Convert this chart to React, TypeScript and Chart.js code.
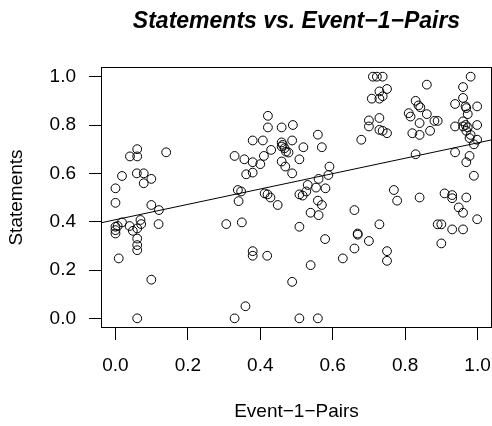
import { useEffect, useRef } from "react";
import { Chart, registerables } from "chart.js";

Chart.register(...registerables);

const FONT = "'Liberation Sans', Arial, Helvetica, sans-serif";

const chartTitle = "Statements vs. Event\u22121\u2212Pairs";
const xTitle = "Event\u22121\u2212Pairs";
const yTitle = "Statements";

const xTicks = [0, 0.2, 0.4, 0.6, 0.8, 1.0];
const yTicks = [0, 0.2, 0.4, 0.6, 0.8, 1.0];

// Event-1-Pairs (x) values
const eventPairs = [
  0.06, 0.04, 0.06, 0.14, 0.018, 0.059, 0.078, 0.099, 0.078, 0.0,
  0.0, 0.099, 0.12, 0.018, 0.0, 0.006, 0.0, 0.0, 0.039, 0.048,
  0.06, 0.069, 0.071, 0.06, 0.06, 0.06, 0.119, 0.009, 0.099, 0.06,
  0.306,
  0.421, 0.421, 0.459, 0.49, 0.559, 0.379, 0.407, 0.459, 0.462, 0.488,
  0.459, 0.467, 0.519, 0.57, 0.43, 0.471, 0.478, 0.329, 0.356, 0.379,
  0.41, 0.4, 0.459, 0.508, 0.469, 0.488, 0.591, 0.361, 0.379, 0.561,
  0.588, 0.531, 0.554, 0.58, 0.338, 0.347, 0.412, 0.42, 0.508, 0.527,
  0.34, 0.428, 0.448, 0.517, 0.559, 0.57, 0.539, 0.561, 0.349, 0.508,
  0.579, 0.379, 0.379, 0.419, 0.628, 0.539, 0.488, 0.359, 0.329, 0.508,
  0.559,
  0.711, 0.722, 0.738, 0.981, 0.86, 0.96, 0.75, 0.729, 0.738, 0.708,
  0.729, 0.829, 0.837, 0.842, 0.96, 0.938, 0.967, 0.969, 0.999, 0.973,
  0.81, 0.815, 0.86, 0.881, 0.89, 0.84, 0.7, 0.729, 0.7, 0.729,
  0.738, 0.75, 0.82, 0.84, 0.869, 0.96, 0.967, 0.938, 0.96, 0.973,
  0.999, 0.969, 0.981, 0.978, 0.999, 0.99, 0.679, 0.829, 0.938, 0.978,
  0.969, 0.99, 0.769,
  0.778, 0.84, 0.909, 0.93, 0.93, 0.969, 0.948, 0.96, 0.999, 0.66,
  0.729, 0.89, 0.9, 0.93, 0.96, 0.9, 0.669, 0.669, 0.7, 0.66,
  0.75, 0.75,
];

// Statements (y) values
const statements = [
  0.7, 0.67, 0.67, 0.687, 0.589, 0.6, 0.6, 0.577, 0.559, 0.538,
  0.478, 0.469, 0.448, 0.397, 0.379, 0.382, 0.365, 0.351, 0.382, 0.362,
  0.372, 0.407, 0.39, 0.33, 0.303, 0.282, 0.39, 0.248, 0.16, 0.0,
  0.39,
  0.838, 0.79, 0.79, 0.8, 0.76, 0.736, 0.736, 0.728, 0.718, 0.736,
  0.711, 0.704, 0.708, 0.708, 0.697, 0.69, 0.686, 0.672, 0.658, 0.646,
  0.672, 0.638, 0.649, 0.658, 0.628, 0.6, 0.628, 0.596, 0.603, 0.577,
  0.593, 0.552, 0.541, 0.538, 0.531, 0.525, 0.517, 0.513, 0.513, 0.525,
  0.485, 0.5, 0.469, 0.508, 0.487, 0.469, 0.437, 0.427, 0.397, 0.379,
  0.328, 0.278, 0.259, 0.259, 0.248, 0.22, 0.151, 0.05, 0.0, 0.0,
  0.0,
  1.0, 1.0, 1.0, 1.0, 0.967, 0.957, 0.949, 0.939, 0.919, 0.909,
  0.909, 0.9, 0.881, 0.873, 0.912, 0.887, 0.877, 0.87, 0.877, 0.845,
  0.849, 0.835, 0.845, 0.817, 0.817, 0.808, 0.819, 0.829, 0.794, 0.78,
  0.776, 0.766, 0.766, 0.759, 0.776, 0.815, 0.8, 0.794, 0.794, 0.79,
  0.8, 0.776, 0.759, 0.746, 0.739, 0.72, 0.739, 0.679, 0.687, 0.672,
  0.646, 0.59, 0.531,
  0.487, 0.5, 0.517, 0.51, 0.497, 0.5, 0.459, 0.437, 0.41, 0.448,
  0.389, 0.389, 0.389, 0.368, 0.368, 0.31, 0.351, 0.346, 0.32, 0.289,
  0.278, 0.238,
];

// fitted regression line
const fitIntercept = 0.408;
const fitSlope = 0.318;

const xRange = [-0.04, 1.04];
const yRange = [-0.04, 1.04];

export default function App() {
  const ref = useRef<HTMLCanvasElement | null>(null);

  useEffect(() => {
    if (!ref.current) return;

    const boxPlugin = {
      id: "plotBox",
      afterDatasetsDraw(chart: any) {
        const { ctx, chartArea } = chart;
        const { left, top, right, bottom } = chartArea;
        ctx.save();
        ctx.strokeStyle = "#000";
        ctx.lineWidth = 1;
        ctx.strokeRect(left + 0.5, top + 0.5, right - left - 1, bottom - top - 1);
        ctx.restore();
      },
    };

    const points = eventPairs.map((x, i) => ({ x, y: statements[i] }));
    const fitLine = xRange.map((x) => ({ x, y: fitIntercept + fitSlope * x }));

    const chart = new Chart(ref.current, {
      type: "scatter",
      data: {
        datasets: [
          {
            type: "line",
            data: fitLine,
            borderColor: "#000",
            borderWidth: 1,
            pointRadius: 0,
            fill: false,
            tension: 0,
          },
          {
            type: "scatter",
            data: points,
            pointStyle: "circle",
            pointRadius: 4.4,
            borderColor: "#000",
            borderWidth: 1,
            backgroundColor: "rgba(0,0,0,0)",
            clip: false,
          },
        ],
      },
      options: {
        animation: false,
        responsive: false,
        devicePixelRatio: 1,
        layout: { padding: 0, autoPadding: false },
        plugins: {
          legend: { display: false },
          tooltip: { enabled: false },
          title: {
            display: true,
            text: chartTitle,
            fullSize: false,
            color: "#000",
            font: { family: FONT, size: 23, weight: "bold", style: "italic", lineHeight: 1.2 },
            padding: { top: 8, bottom: 31.4 },
          },
        },
        scales: {
          x: {
            type: "linear",
            min: xRange[0],
            max: xRange[1],
            afterBuildTicks: (scale: any) => {
              scale.ticks = xTicks.map((v) => ({ value: v }));
            },
            afterFit: (scale: any) => {
              scale.height = 98;
              scale.paddingLeft = 0;
              scale.paddingRight = 0;
            },
            ticks: {
              autoSkip: false,
              maxRotation: 0,
              padding: 0,
              color: "#000",
              font: { family: FONT, size: 19, lineHeight: "50.8px" },
              callback: (v: any) => Number(v).toFixed(1),
            },
            grid: {
              display: true,
              drawOnChartArea: false,
              drawTicks: true,
              tickLength: 12,
              color: "#000",
              lineWidth: 1,
            },
            border: { display: false },
            title: {
              display: true,
              text: xTitle,
              color: "#000",
              font: { family: FONT, size: 19, lineHeight: 1.2 },
              padding: { top: 0, bottom: 3 },
            },
          },
          y: {
            type: "linear",
            min: yRange[0],
            max: yRange[1],
            afterBuildTicks: (scale: any) => {
              scale.ticks = yTicks.map((v) => ({ value: v }));
            },
            afterFit: (scale: any) => {
              scale.width = 101;
              scale.paddingTop = 0;
              scale.paddingBottom = 0;
            },
            ticks: {
              autoSkip: false,
              padding: 13,
              color: "#000",
              font: { family: FONT, size: 19 },
              callback: (v: any) => Number(v).toFixed(1),
            },
            grid: {
              display: true,
              drawOnChartArea: false,
              drawTicks: true,
              tickLength: 12,
              color: "#000",
              lineWidth: 1,
            },
            border: { display: false },
            title: {
              display: true,
              text: yTitle,
              color: "#000",
              font: { family: FONT, size: 19, lineHeight: 1.2 },
              padding: { top: 5.5, bottom: 0 },
            },
          },
        },
      },
      plugins: [boxPlugin],
    } as any);

    return () => chart.destroy();
  }, []);

  return (
    <div style={{ position: "fixed", left: 0, top: 0, width: 492, height: 426, background: "#fff" }}>
      <canvas ref={ref} width={492} height={426} style={{ width: 492, height: 426, display: "block" }} />
    </div>
  );
}
